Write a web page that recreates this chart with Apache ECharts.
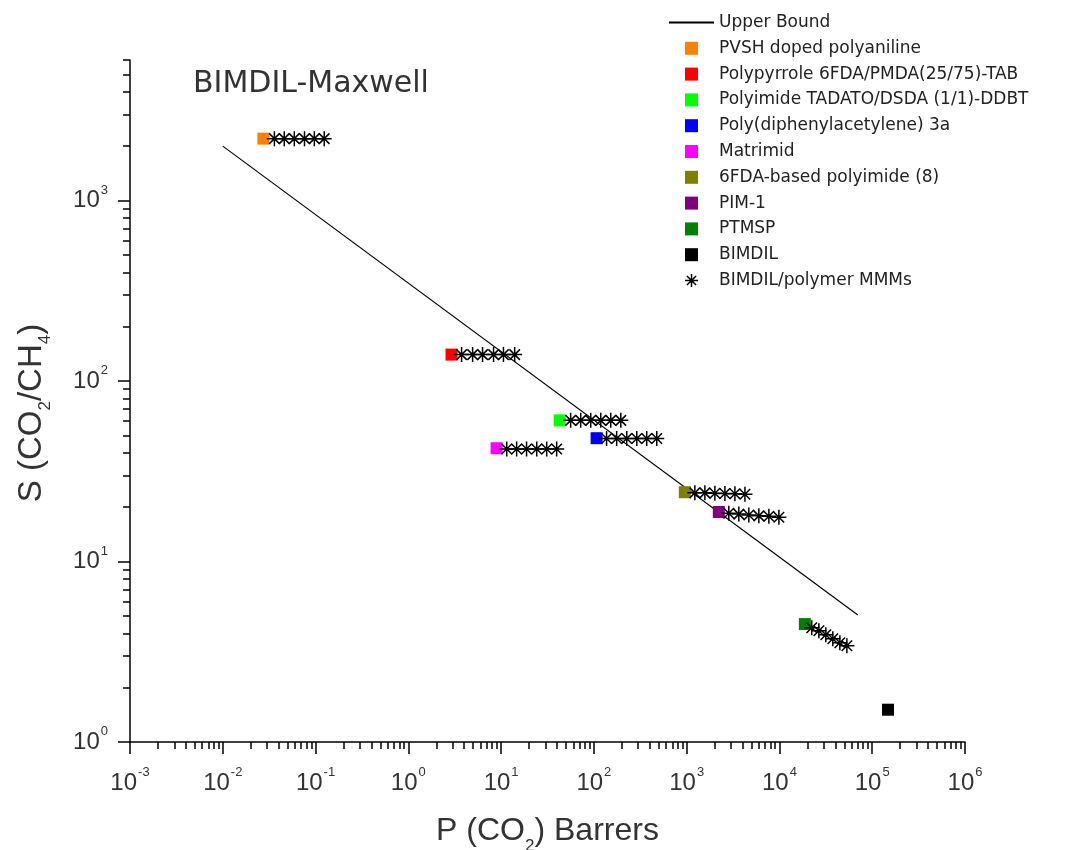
<!DOCTYPE html>
<html>
<head>
<meta charset="utf-8">
<script src="https://cdn.jsdelivr.net/npm/echarts@6/dist/echarts.min.js"></script>
<style>
html,body{margin:0;padding:0;background:#fff;}
#chart{width:1065px;height:850px;}
</style>
</head>
<body>
<div id="chart"></div>
<script>
// ---------------- data ----------------
const polymerNames = [
  'PVSH doped polyaniline',
  'Polypyrrole 6FDA/PMDA(25/75)-TAB',
  'Polyimide TADATO/DSDA (1/1)-DDBT',
  'Poly(diphenylacetylene) 3a',
  'Matrimid',
  '6FDA-based polyimide (8)',
  'PIM-1',
  'PTMSP',
  'BIMDIL'
];
const polymerColors = ['#ff8000', '#ff0000', '#00ff00', '#0000ff', '#ff00ff', '#808000', '#800080', '#008000', '#000000'];
const polymerP = [0.0274, 2.92, 42.8, 107, 8.94, 955, 2220, 18800, 148000];
const polymerS = [2200, 140, 60.5, 48.2, 42.4, 24.2, 18.8, 4.5, 1.51];

// BIMDIL/polymer MMMs (Maxwell model), one group per polymer
const mmmP_PVSH = [0.036, 0.046, 0.059, 0.076, 0.097, 0.124];
const mmmS_PVSH = [2200, 2200, 2200, 2200, 2200, 2200];
const mmmP_PPy = [3.75, 4.93, 6.31, 8.29, 10.6, 14.0];
const mmmS_PPy = [140, 140, 140, 140, 140, 140];
const mmmP_TADATO = [56.2, 72.1, 92.5, 118.6, 152, 195];
const mmmS_TADATO = [60.5, 60.5, 60.5, 60.5, 60.5, 60.5];
const mmmP_PDPA = [137, 176, 226, 290, 371, 476];
const mmmS_PDPA = [48, 48, 48, 48, 48, 48];
const mmmP_Matrimid = [11.5, 14.7, 18.8, 24.2, 31.0, 39.7];
const mmmS_Matrimid = [42, 42, 42, 42, 42, 42];
const mmmP_6FDA = [1225, 1571, 2014, 2583, 3311, 4246];
const mmmS_6FDA = [24, 24, 23.9, 23.8, 23.7, 23.6];
const mmmP_PIM = [2844, 3648, 4677, 5998, 7691, 9863];
const mmmS_PIM = [18.5, 18.3, 18.1, 17.9, 17.8, 17.6];
const mmmP_PTMSP = [22300, 26600, 31600, 37600, 44800, 53300];
const mmmS_PTMSP = [4.29, 4.13, 3.93, 3.73, 3.55, 3.41];

const upperBoundP = [0.01, 70000];
const upperBoundS = [2000, 5.06];

// axis ticks (exponents of 10)
const xMajorExp = [-3, -2, -1, 0, 1, 2, 3, 4, 5, 6];
const yMajorExp = [0, 1, 2, 3];
const xMin = 0.001, xMax = 1e6, yMin = 1, yMax = 6000;

const titleText = 'BIMDIL-Maxwell';
const xName = '{n|P (CO}{sub|2}{n|) Barrers}';
const yName = '{n|S (CO}{sub|2}{n|/CH}{sub|4}{e|)}';
const upperName = 'Upper Bound';
const mmmName = 'BIMDIL/polymer MMMs';

// ---------------- build ----------------
function minorExp(majors, maxExp) {
  const out = [];
  for (let i = 0; i < majors.length; i++) {
    for (let k = 2; k <= 9; k++) {
      const v = majors[i] + Math.log10(k);
      if (v <= maxExp + 1e-9) out.push(v);
    }
  }
  return out;
}
const xLo = Math.log10(xMin), xHi = Math.log10(xMax);
const yLo = Math.log10(yMin), yHi = Math.log10(yMax);
const xMinorExp = minorExp(xMajorExp, xHi);
const yMinorExp = minorExp(yMajorExp, yHi);

const zip = (a, b) => a.map((v, i) => [v, b[i]]);
const mmmData = [].concat(
  zip(mmmP_PVSH, mmmS_PVSH), zip(mmmP_PPy, mmmS_PPy), zip(mmmP_TADATO, mmmS_TADATO),
  zip(mmmP_PDPA, mmmS_PDPA), zip(mmmP_Matrimid, mmmS_Matrimid), zip(mmmP_6FDA, mmmS_6FDA),
  zip(mmmP_PIM, mmmS_PIM), zip(mmmP_PTMSP, mmmS_PTMSP)
);

const FONT = 'Liberation Sans, Arial, sans-serif';
const LFONT = 'DejaVu Sans, sans-serif';
const starPath = 'path://M0,5L10,5M5,0L5,10M1.5,1.5L8.5,8.5M8.5,1.5L1.5,8.5';
const squarePath = 'path://M0,0L10,0L10,10L0,10Z';

const expLabel = v => '{b|10}{s|' + Math.round(v) + '}';
const labelRich = {
  b: { fontFamily: FONT, fontSize: 24, color: '#333' },
  s: { fontFamily: FONT, fontSize: 13, color: '#333', padding: [0, 0, 21, 1] }
};
const xNameRich = {
  n: { fontFamily: FONT, fontSize: 32, color: '#333' },
  sub: { fontFamily: FONT, fontSize: 17, color: '#333', padding: [30, 0, 0, 0] }
};
const yNameRich = {
  n: { fontFamily: FONT, fontSize: 33, color: '#333' },
  sub: { fontFamily: FONT, fontSize: 17, color: '#333', padding: [28, 0, 0, 0] },
  e: { fontFamily: FONT, fontSize: 33, color: '#333', padding: [0, 24, 0, 0] }
};

const series = [];
series.push({
  name: upperName, type: 'line', xAxisIndex: 0, yAxisIndex: 0,
  data: zip(upperBoundP, upperBoundS), symbol: 'none', showSymbol: false,
  lineStyle: { color: '#000', width: 1.2 }, itemStyle: { color: '#000' }, z: 2
});
polymerNames.forEach((n, i) => {
  series.push({
    name: n, type: 'scatter', xAxisIndex: 0, yAxisIndex: 0,
    data: [[polymerP[i], polymerS[i]]], symbol: 'rect', symbolSize: 12,
    itemStyle: { color: polymerColors[i], opacity: 1 }, z: 3
  });
});
series.push({
  name: mmmName, type: 'scatter', xAxisIndex: 0, yAxisIndex: 0,
  data: mmmData, symbol: starPath, symbolSize: 15,
  itemStyle: { color: 'rgba(0,0,0,0)', borderColor: '#000', borderWidth: 1.5, opacity: 1 }, z: 4
});

const legendData = [{ name: upperName, itemStyle: { color: 'rgba(0,0,0,0)', borderWidth: 0, opacity: 0 } }];
polymerNames.forEach((n, i) => legendData.push({ name: n, icon: squarePath,
  itemStyle: { color: polymerColors[i], opacity: 1 } }));
legendData.push({ name: mmmName, icon: starPath,
  itemStyle: { color: 'rgba(0,0,0,0)', borderColor: '#000', borderWidth: 1.5, opacity: 1 } });

const hidden = { show: false };
const noLine = { show: false, onZero: false };
const option = {
  animation: false,
  backgroundColor: '#fff',
  textStyle: { fontFamily: FONT },
  title: {
    text: titleText, left: 193, top: 69, padding: 0,
    textStyle: { fontFamily: LFONT, fontSize: 30, fontWeight: 'normal', color: '#333' }
  },
  legend: {
    data: legendData, orient: 'vertical', left: 668, top: 14, padding: 0,
    itemWidth: 45, itemHeight: 13, itemGap: 8.8, selectedMode: false,
    textStyle: { fontFamily: LFONT, fontSize: 17, lineHeight: 17, color: '#222' }
  },
  grid: { left: 130, right: 100, top: 60, bottom: 108, containLabel: false, outerBoundsMode: 'none' },
  xAxis: [
    {
      type: 'log', logBase: 10, min: xMin, max: xMax, gridIndex: 0,
      axisLine: { show: true, onZero: false, lineStyle: { color: '#000', width: 1.5 } },
      axisTick: hidden, axisLabel: hidden, splitLine: hidden, minorTick: hidden,
      name: xName, nameLocation: 'middle', nameGap: 66,
      nameTextStyle: { fontFamily: FONT, fontSize: 32, color: '#333', rich: xNameRich }
    },
    {
      type: 'value', min: xLo, max: xHi, gridIndex: 0, position: 'bottom',
      axisLine: noLine, splitLine: hidden,
      axisTick: { show: true, customValues: xMajorExp, length: 12, lineStyle: { color: '#000', width: 1.5 } },
      axisLabel: { show: true, customValues: xMajorExp, formatter: expLabel, rich: labelRich, margin: 24 }
    },
    {
      type: 'value', min: xLo, max: xHi, gridIndex: 0, position: 'bottom',
      axisLine: noLine, splitLine: hidden, axisLabel: hidden,
      axisTick: { show: true, customValues: xMinorExp, length: 7, lineStyle: { color: '#000', width: 1.5 } }
    }
  ],
  yAxis: [
    {
      type: 'log', logBase: 10, min: yMin, max: yMax, gridIndex: 0,
      axisLine: { show: true, onZero: false, lineStyle: { color: '#000', width: 1.5 } },
      axisTick: hidden, axisLabel: hidden, splitLine: hidden, minorTick: hidden,
      name: yName, nameLocation: 'middle', nameGap: 76,
      nameTextStyle: { fontFamily: FONT, fontSize: 33, color: '#333', rich: yNameRich }
    },
    {
      type: 'value', min: yLo, max: yHi, gridIndex: 0, position: 'left',
      axisLine: noLine, splitLine: hidden,
      axisTick: { show: true, customValues: yMajorExp, length: 12, lineStyle: { color: '#000', width: 1.5 } },
      axisLabel: { show: true, customValues: yMajorExp, formatter: expLabel, rich: labelRich, margin: 22 }
    },
    {
      type: 'value', min: yLo, max: yHi, gridIndex: 0, position: 'left',
      axisLine: noLine, splitLine: hidden, axisLabel: hidden,
      axisTick: { show: true, customValues: yMinorExp, length: 7, lineStyle: { color: '#000', width: 1.5 } }
    }
  ],
  series: series
};

const chart = echarts.init(document.getElementById('chart'), null, { renderer: 'canvas' });
chart.setOption(option);
</script>
</body>
</html>
